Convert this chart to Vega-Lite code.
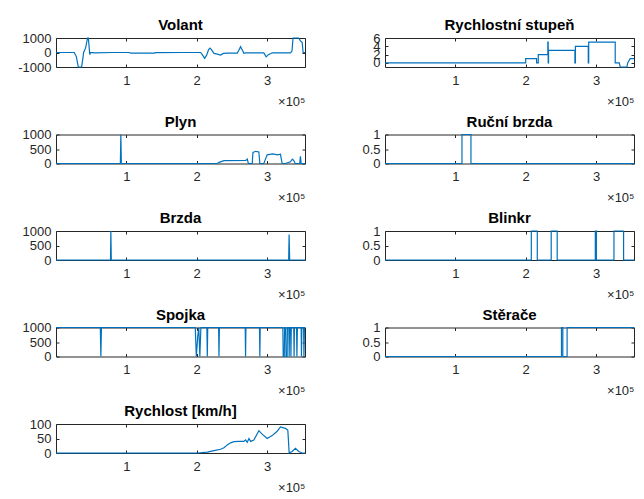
{
  "$schema": "https://vega.github.io/schema/vega-lite/v6.json",
  "padding": {"left": 17, "top": 18, "right": 5, "bottom": 5},
  "columns": 2,
  "spacing": {"row": 67.5, "column": 80},
  "bounds": "flush",
  "datasets": {
    "volant": [{"x":0,"y":0},{"x":26000,"y":0},{"x":29000,"y":-300},{"x":31700,"y":-1000},{"x":36400,"y":-1000},{"x":38500,"y":-300},{"x":39200,"y":0},{"x":42000,"y":300},{"x":44900,"y":1000},{"x":46000,"y":1000},{"x":48000,"y":-150},{"x":49000,"y":0},{"x":55000,"y":-20},{"x":80000,"y":0},{"x":104000,"y":0},{"x":106400,"y":-40},{"x":139500,"y":-40},{"x":142000,"y":-10},{"x":180000,"y":0},{"x":205700,"y":0},{"x":208000,"y":-150},{"x":211300,"y":-400},{"x":214000,"y":-200},{"x":217000,"y":200},{"x":218900,"y":300},{"x":221000,"y":200},{"x":224600,"y":-60},{"x":228000,"y":-100},{"x":234000,"y":-180},{"x":238000,"y":-60},{"x":243500,"y":-40},{"x":257700,"y":-40},{"x":260000,"y":150},{"x":262400,"y":400},{"x":265000,"y":150},{"x":267100,"y":-50},{"x":270000,"y":-30},{"x":295500,"y":-30},{"x":298800,"y":-300},{"x":302000,"y":-150},{"x":307300,"y":-20},{"x":333300,"y":-20},{"x":335500,"y":100},{"x":337000,"y":1000},{"x":345100,"y":1000},{"x":347500,"y":800},{"x":350000,"y":700},{"x":351300,"y":0},{"x":354000,"y":0}],
    "stupen": [{"x":0,"y":0},{"x":200000,"y":0},{"x":200000,"y":1},{"x":215500,"y":1},{"x":215500,"y":0},{"x":217900,"y":0},{"x":217900,"y":2},{"x":231500,"y":2},{"x":231500,"y":5},{"x":232000,"y":5},{"x":232000,"y":0},{"x":232500,"y":0},{"x":232500,"y":3},{"x":270000,"y":3},{"x":270000,"y":0},{"x":270700,"y":0},{"x":270700,"y":4},{"x":289000,"y":4},{"x":289000,"y":0},{"x":289600,"y":0},{"x":289600,"y":5},{"x":327300,"y":5},{"x":327300,"y":0},{"x":333000,"y":0},{"x":334400,"y":-1},{"x":343900,"y":-1},{"x":345000,"y":0},{"x":348600,"y":1},{"x":354000,"y":1}],
    "plyn": [{"x":0,"y":0},{"x":91500,"y":0},{"x":92200,"y":1000},{"x":92900,"y":0},{"x":229300,"y":0},{"x":232000,"y":40},{"x":238800,"y":100},{"x":270000,"y":110},{"x":271900,"y":150},{"x":273500,"y":0},{"x":279000,"y":0},{"x":280000,"y":380},{"x":284000,"y":420},{"x":288400,"y":400},{"x":289800,"y":0},{"x":295500,"y":0},{"x":297000,"y":100},{"x":300200,"y":300},{"x":308000,"y":330},{"x":315000,"y":300},{"x":319100,"y":320},{"x":321500,"y":0},{"x":326000,"y":0},{"x":333300,"y":60},{"x":336000,"y":150},{"x":338100,"y":100},{"x":340000,"y":0},{"x":346500,"y":0},{"x":347500,"y":250},{"x":348500,"y":0},{"x":354000,"y":0}],
    "rucni": [{"x":0,"y":0},{"x":109400,"y":0},{"x":109400,"y":1},{"x":122200,"y":1},{"x":122200,"y":0},{"x":354000,"y":0}],
    "brzda": [{"x":0,"y":0},{"x":77500,"y":0},{"x":78000,"y":1000},{"x":78600,"y":0},{"x":330800,"y":0},{"x":331400,"y":880},{"x":332200,"y":0},{"x":354000,"y":0}],
    "blinkr": [{"x":0,"y":0},{"x":208000,"y":0},{"x":208000,"y":1},{"x":216500,"y":1},{"x":216500,"y":0},{"x":236300,"y":0},{"x":236300,"y":1},{"x":244800,"y":1},{"x":244800,"y":0},{"x":299000,"y":0},{"x":299000,"y":1},{"x":300500,"y":1},{"x":300500,"y":0},{"x":325500,"y":0},{"x":325500,"y":1},{"x":339200,"y":1},{"x":339200,"y":0},{"x":354000,"y":0}],
    "spojka": [{"x":0,"y":1000},{"x":63000,"y":1000},{"x":63800,"y":0},{"x":64600,"y":1000},{"x":198000,"y":1000},{"x":199500,"y":0},{"x":201500,"y":700},{"x":203000,"y":1000},{"x":204500,"y":0},{"x":206000,"y":1000},{"x":214500,"y":1000},{"x":215100,"y":0},{"x":215700,"y":1000},{"x":231200,"y":1000},{"x":231700,"y":0},{"x":232300,"y":1000},{"x":269000,"y":1000},{"x":269500,"y":0},{"x":270000,"y":1000},{"x":289300,"y":1000},{"x":289800,"y":0},{"x":290300,"y":1000},{"x":322500,"y":1000},{"x":323000,"y":0},{"x":324500,"y":0},{"x":325000,"y":1000},{"x":326500,"y":1000},{"x":327000,"y":0},{"x":328600,"y":0},{"x":329000,"y":1000},{"x":331000,"y":1000},{"x":331500,"y":0},{"x":332000,"y":1000},{"x":333500,"y":1000},{"x":334000,"y":0},{"x":334500,"y":1000},{"x":338000,"y":1000},{"x":338500,"y":0},{"x":339000,"y":1000},{"x":342000,"y":1000},{"x":342500,"y":0},{"x":343200,"y":1000},{"x":348500,"y":1000},{"x":349000,"y":0},{"x":349500,"y":1000},{"x":352000,"y":1000},{"x":352500,"y":0},{"x":353200,"y":1000},{"x":354000,"y":1000}],
    "sterace": [{"x":0,"y":0},{"x":250900,"y":0},{"x":250900,"y":1},{"x":252800,"y":1},{"x":252800,"y":0},{"x":258900,"y":0},{"x":258900,"y":1},{"x":354000,"y":1}],
    "rychlost": [{"x":0,"y":0},{"x":201000,"y":0},{"x":215100,"y":3},{"x":224600,"y":8},{"x":234000,"y":13},{"x":238800,"y":18},{"x":243500,"y":28},{"x":248200,"y":35},{"x":252900,"y":39},{"x":260000,"y":40},{"x":267100,"y":40},{"x":269500,"y":45},{"x":271900,"y":37},{"x":274300,"y":50},{"x":276600,"y":40},{"x":281300,"y":45},{"x":288400,"y":77},{"x":293100,"y":65},{"x":300200,"y":50},{"x":307300,"y":60},{"x":314400,"y":75},{"x":319100,"y":90},{"x":326200,"y":85},{"x":329600,"y":78},{"x":331500,"y":0},{"x":335700,"y":5},{"x":340400,"y":16},{"x":345100,"y":5},{"x":349800,"y":0},{"x":354000,"y":0}]
  },
  "concat": [
    {"title": "Volant", "width": 249, "height": 29, "data": {"name": "volant"}, "layer": [
      {"mark": {"type": "line", "opacity": 0}, "encoding": {
        "x": {"field": "x", "type": "quantitative", "scale": {"domain": [0, 354000], "nice": false, "zero": false}, "axis": {"orient": "top", "values": [100000, 200000, 300000], "labels": false, "title": null}},
        "y": {"field": "y", "type": "quantitative", "scale": {"domain": [-1000, 1000], "nice": false}, "axis": {"orient": "right", "values": [-1000, 0, 1000], "labels": false, "title": null}}}},
      {"mark": "line", "encoding": {
        "x": {"field": "x", "type": "quantitative", "scale": {"domain": [0, 354000], "nice": false, "zero": false}, "axis": {"orient": "bottom", "values": [100000, 200000, 300000], "labelExpr": "'' + datum.value / 100000", "title": "×10⁵", "titleAnchor": "end"}},
        "y": {"field": "y", "type": "quantitative", "scale": {"domain": [-1000, 1000], "nice": false}, "axis": {"orient": "left", "values": [-1000, 0, 1000], "labelExpr": "'' + datum.value", "title": null}}}}]},
    {"title": "Rychlostní stupeň", "width": 249, "height": 29, "data": {"name": "stupen"}, "layer": [
      {"mark": {"type": "line", "opacity": 0}, "encoding": {
        "x": {"field": "x", "type": "quantitative", "scale": {"domain": [0, 354000], "nice": false, "zero": false}, "axis": {"orient": "top", "values": [100000, 200000, 300000], "labels": false, "title": null}},
        "y": {"field": "y", "type": "quantitative", "scale": {"domain": [-1, 6], "nice": false}, "axis": {"orient": "right", "values": [0, 2, 4, 6], "labels": false, "title": null}}}},
      {"mark": "line", "encoding": {
        "x": {"field": "x", "type": "quantitative", "scale": {"domain": [0, 354000], "nice": false, "zero": false}, "axis": {"orient": "bottom", "values": [100000, 200000, 300000], "labelExpr": "'' + datum.value / 100000", "title": "×10⁵", "titleAnchor": "end"}},
        "y": {"field": "y", "type": "quantitative", "scale": {"domain": [-1, 6], "nice": false}, "axis": {"orient": "left", "values": [0, 2, 4, 6], "labelExpr": "'' + datum.value", "title": null}}}}]},
    {"title": "Plyn", "width": 249, "height": 29, "data": {"name": "plyn"}, "layer": [
      {"mark": {"type": "line", "opacity": 0}, "encoding": {
        "x": {"field": "x", "type": "quantitative", "scale": {"domain": [0, 354000], "nice": false, "zero": false}, "axis": {"orient": "top", "values": [100000, 200000, 300000], "labels": false, "title": null}},
        "y": {"field": "y", "type": "quantitative", "scale": {"domain": [0, 1000], "nice": false}, "axis": {"orient": "right", "values": [0, 500, 1000], "labels": false, "title": null}}}},
      {"mark": "line", "encoding": {
        "x": {"field": "x", "type": "quantitative", "scale": {"domain": [0, 354000], "nice": false, "zero": false}, "axis": {"orient": "bottom", "values": [100000, 200000, 300000], "labelExpr": "'' + datum.value / 100000", "title": "×10⁵", "titleAnchor": "end"}},
        "y": {"field": "y", "type": "quantitative", "scale": {"domain": [0, 1000], "nice": false}, "axis": {"orient": "left", "values": [0, 500, 1000], "labelExpr": "'' + datum.value", "title": null}}}}]},
    {"title": "Ruční brzda", "width": 249, "height": 29, "data": {"name": "rucni"}, "layer": [
      {"mark": {"type": "line", "opacity": 0}, "encoding": {
        "x": {"field": "x", "type": "quantitative", "scale": {"domain": [0, 354000], "nice": false, "zero": false}, "axis": {"orient": "top", "values": [100000, 200000, 300000], "labels": false, "title": null}},
        "y": {"field": "y", "type": "quantitative", "scale": {"domain": [0, 1], "nice": false}, "axis": {"orient": "right", "values": [0, 0.5, 1], "labels": false, "title": null}}}},
      {"mark": "line", "encoding": {
        "x": {"field": "x", "type": "quantitative", "scale": {"domain": [0, 354000], "nice": false, "zero": false}, "axis": {"orient": "bottom", "values": [100000, 200000, 300000], "labelExpr": "'' + datum.value / 100000", "title": "×10⁵", "titleAnchor": "end"}},
        "y": {"field": "y", "type": "quantitative", "scale": {"domain": [0, 1], "nice": false}, "axis": {"orient": "left", "values": [0, 0.5, 1], "labelExpr": "'' + datum.value", "title": null}}}}]},
    {"title": "Brzda", "width": 249, "height": 29, "data": {"name": "brzda"}, "layer": [
      {"mark": {"type": "line", "opacity": 0}, "encoding": {
        "x": {"field": "x", "type": "quantitative", "scale": {"domain": [0, 354000], "nice": false, "zero": false}, "axis": {"orient": "top", "values": [100000, 200000, 300000], "labels": false, "title": null}},
        "y": {"field": "y", "type": "quantitative", "scale": {"domain": [0, 1000], "nice": false}, "axis": {"orient": "right", "values": [0, 500, 1000], "labels": false, "title": null}}}},
      {"mark": "line", "encoding": {
        "x": {"field": "x", "type": "quantitative", "scale": {"domain": [0, 354000], "nice": false, "zero": false}, "axis": {"orient": "bottom", "values": [100000, 200000, 300000], "labelExpr": "'' + datum.value / 100000", "title": "×10⁵", "titleAnchor": "end"}},
        "y": {"field": "y", "type": "quantitative", "scale": {"domain": [0, 1000], "nice": false}, "axis": {"orient": "left", "values": [0, 500, 1000], "labelExpr": "'' + datum.value", "title": null}}}}]},
    {"title": "Blinkr", "width": 249, "height": 29, "data": {"name": "blinkr"}, "layer": [
      {"mark": {"type": "line", "opacity": 0}, "encoding": {
        "x": {"field": "x", "type": "quantitative", "scale": {"domain": [0, 354000], "nice": false, "zero": false}, "axis": {"orient": "top", "values": [100000, 200000, 300000], "labels": false, "title": null}},
        "y": {"field": "y", "type": "quantitative", "scale": {"domain": [0, 1], "nice": false}, "axis": {"orient": "right", "values": [0, 0.5, 1], "labels": false, "title": null}}}},
      {"mark": "line", "encoding": {
        "x": {"field": "x", "type": "quantitative", "scale": {"domain": [0, 354000], "nice": false, "zero": false}, "axis": {"orient": "bottom", "values": [100000, 200000, 300000], "labelExpr": "'' + datum.value / 100000", "title": "×10⁵", "titleAnchor": "end"}},
        "y": {"field": "y", "type": "quantitative", "scale": {"domain": [0, 1], "nice": false}, "axis": {"orient": "left", "values": [0, 0.5, 1], "labelExpr": "'' + datum.value", "title": null}}}}]},
    {"title": "Spojka", "width": 249, "height": 29, "data": {"name": "spojka"}, "layer": [
      {"mark": {"type": "line", "opacity": 0}, "encoding": {
        "x": {"field": "x", "type": "quantitative", "scale": {"domain": [0, 354000], "nice": false, "zero": false}, "axis": {"orient": "top", "values": [100000, 200000, 300000], "labels": false, "title": null}},
        "y": {"field": "y", "type": "quantitative", "scale": {"domain": [0, 1000], "nice": false}, "axis": {"orient": "right", "values": [0, 500, 1000], "labels": false, "title": null}}}},
      {"mark": "line", "encoding": {
        "x": {"field": "x", "type": "quantitative", "scale": {"domain": [0, 354000], "nice": false, "zero": false}, "axis": {"orient": "bottom", "values": [100000, 200000, 300000], "labelExpr": "'' + datum.value / 100000", "title": "×10⁵", "titleAnchor": "end"}},
        "y": {"field": "y", "type": "quantitative", "scale": {"domain": [0, 1000], "nice": false}, "axis": {"orient": "left", "values": [0, 500, 1000], "labelExpr": "'' + datum.value", "title": null}}}}]},
    {"title": "Stěrače", "width": 249, "height": 29, "data": {"name": "sterace"}, "layer": [
      {"mark": {"type": "line", "opacity": 0}, "encoding": {
        "x": {"field": "x", "type": "quantitative", "scale": {"domain": [0, 354000], "nice": false, "zero": false}, "axis": {"orient": "top", "values": [100000, 200000, 300000], "labels": false, "title": null}},
        "y": {"field": "y", "type": "quantitative", "scale": {"domain": [0, 1], "nice": false}, "axis": {"orient": "right", "values": [0, 0.5, 1], "labels": false, "title": null}}}},
      {"mark": "line", "encoding": {
        "x": {"field": "x", "type": "quantitative", "scale": {"domain": [0, 354000], "nice": false, "zero": false}, "axis": {"orient": "bottom", "values": [100000, 200000, 300000], "labelExpr": "'' + datum.value / 100000", "title": "×10⁵", "titleAnchor": "end"}},
        "y": {"field": "y", "type": "quantitative", "scale": {"domain": [0, 1], "nice": false}, "axis": {"orient": "left", "values": [0, 0.5, 1], "labelExpr": "'' + datum.value", "title": null}}}}]},
    {"title": "Rychlost [km/h]", "width": 249, "height": 29, "data": {"name": "rychlost"}, "layer": [
      {"mark": {"type": "line", "opacity": 0}, "encoding": {
        "x": {"field": "x", "type": "quantitative", "scale": {"domain": [0, 354000], "nice": false, "zero": false}, "axis": {"orient": "top", "values": [100000, 200000, 300000], "labels": false, "title": null}},
        "y": {"field": "y", "type": "quantitative", "scale": {"domain": [0, 100], "nice": false}, "axis": {"orient": "right", "values": [0, 50, 100], "labels": false, "title": null}}}},
      {"mark": "line", "encoding": {
        "x": {"field": "x", "type": "quantitative", "scale": {"domain": [0, 354000], "nice": false, "zero": false}, "axis": {"orient": "bottom", "values": [100000, 200000, 300000], "labelExpr": "'' + datum.value / 100000", "title": "×10⁵", "titleAnchor": "end"}},
        "y": {"field": "y", "type": "quantitative", "scale": {"domain": [0, 100], "nice": false}, "axis": {"orient": "left", "values": [0, 50, 100], "labelExpr": "'' + datum.value", "title": null}}}}]}
  ],
  "config": {
    "font": "Liberation Sans",
    "background": "white",
    "view": {"stroke": null},
    "axis": {"domain": true, "domainColor": "#262626", "domainWidth": 1, "grid": false, "zindex": 0, "labelFont": "Liberation Sans", "labelFontSize": 13, "labelColor": "#262626", "tickColor": "#262626", "tickSize": -3, "labelFlush": false, "labelOverlap": false, "labelBound": false, "titleFont": "Liberation Sans", "titleFontWeight": "normal", "titleFontSize": 13, "titleColor": "#262626", "titlePadding": 8},
    "axisX": {"labelPadding": 10},
    "axisY": {"labelPadding": 8},
    "title": {"font": "Liberation Sans", "fontSize": 15, "fontWeight": "bold", "color": "#000000", "offset": -1},
    "line": {"color": "#0072BD", "strokeWidth": 1.2, "interpolate": "linear"}
  }
}
